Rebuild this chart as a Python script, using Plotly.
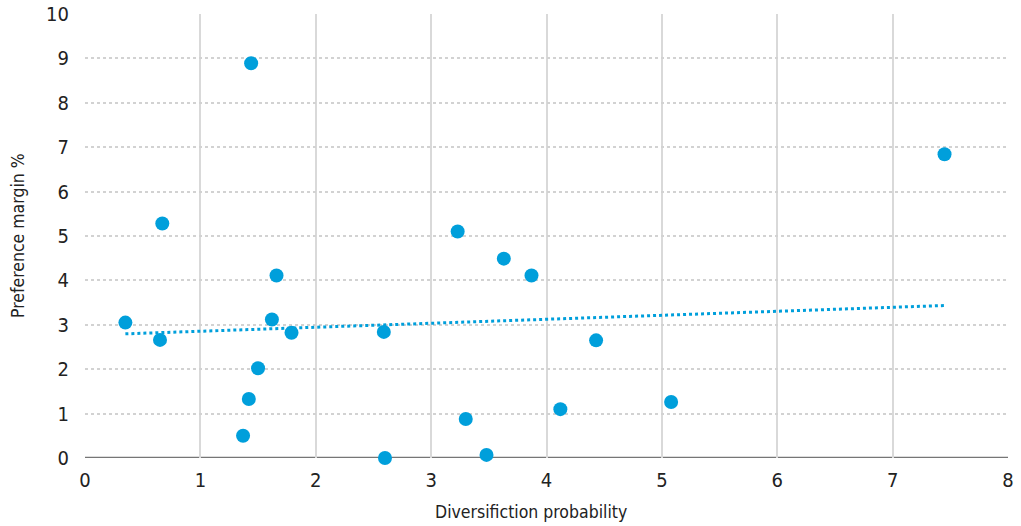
import numpy as np
import plotly.graph_objects as go

diversification = [0.35, 0.65, 0.67, 1.44, 1.37, 1.42, 1.50, 1.62, 1.66, 1.79, 2.59, 2.60,
                   3.23, 3.30, 3.48, 3.63, 3.87, 4.12, 4.43, 5.08, 7.45]
preference = [3.05, 2.66, 5.28, 8.89, 0.50, 1.33, 2.02, 3.12, 4.11, 2.82, 2.84, 0.0,
              5.10, 0.88, 0.07, 4.49, 4.11, 1.10, 2.65, 1.26, 6.84]
x_ticks = [0, 1, 2, 3, 4, 5, 6, 7, 8]
y_ticks = [0, 1, 2, 3, 4, 5, 6, 7, 8, 9, 10]

color = "#009fdb"
font = "DejaVu Sans Condensed, Liberation Sans Narrow, sans-serif"

slope, intercept = np.polyfit(diversification, preference, 1)
tx = [min(diversification), max(diversification)]
ty = [slope * v + intercept for v in tx]

fig = go.Figure()
fig.add_trace(go.Scatter(x=tx, y=ty, mode="lines",
                         line=dict(color=color, width=3, dash="dot"),
                         hoverinfo="skip", showlegend=False))
fig.add_trace(go.Scatter(x=diversification, y=preference, mode="markers",
                         marker=dict(color=color, size=14),
                         showlegend=False, cliponaxis=False))

fig.update_layout(
    width=1021, height=526,
    margin=dict(l=85, r=13, t=14, b=68),
    plot_bgcolor="white", paper_bgcolor="white",
    font=dict(family=font, size=18, color="#222222"),
    xaxis=dict(range=[0, 8], tickvals=x_ticks, showgrid=True, gridcolor="#d9d9d9",
               gridwidth=2, zeroline=False, showline=False, ticks="",
               automargin=False, ticklabelstandoff=8,
               tickfont=dict(size=20)),
    yaxis=dict(range=[0, 10], tickvals=y_ticks, showgrid=True, gridcolor="#d2d2d2",
               griddash="dot", gridwidth=1.5, zeroline=False, showline=False,
               ticks="", ticklabelstandoff=15, automargin=False,
               tickfont=dict(size=20)),
    annotations=[
        dict(text="Diversifiction probability", xref="paper", yref="paper",
             x=0.483, y=0, yshift=-54, xanchor="center", yanchor="middle",
             showarrow=False, font=dict(size=17.5)),
        dict(text="Preference margin %", xref="paper", yref="paper",
             x=0, xshift=-67, y=0.5, textangle=-90, xanchor="center",
             yanchor="middle", showarrow=False, font=dict(size=17.5)),
    ],
)
fig.add_shape(type="line", xref="paper", yref="y", x0=0, x1=1, y0=0, y1=0,
              line=dict(color="#767676", width=2.5), layer="below")
fig.write_html("out.html", config={"displayModeBar": False},
               post_script="document.body.style.margin='0';")
